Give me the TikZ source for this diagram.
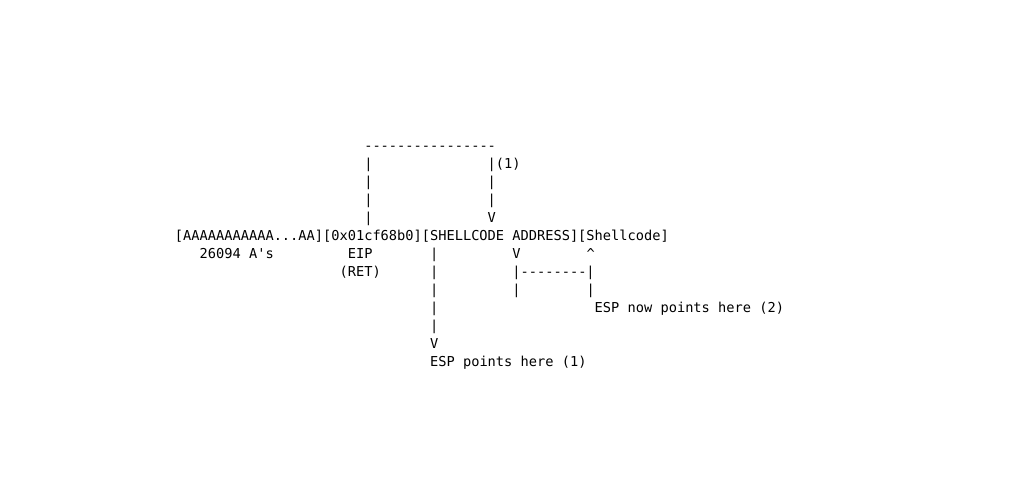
\documentclass[tikz,border=0pt]{standalone}
\usepackage{fontspec}
\setmonofont{DejaVu Sans Mono}
\tikzset{
  txt/.style={anchor=base west,inner sep=0pt,outer sep=0pt,
    font=\ttfamily\fontsize{13.67}{18}\selectfont}
}
\begin{document}
\begin{tikzpicture}[x=8.23pt,y=-18pt]
            \useasboundingbox (-175pt,150pt) rectangle (856pt,-341pt);
            % jump from EIP back to the shellcode address
            \node[txt] (top) at (23,0) {----------------};
            \foreach \r in {1,2,3,4} \node[txt] (eipbar\r) at (23,\r) {|};
            \node[txt] (retbar1) at (38,1) {|(1)};
            \node[txt] (retbar2) at (38,2) {|};
            \node[txt] (retbar3) at (38,3) {|};
            \node[txt] (retarrow) at (38,4) {V};
            % the buffer
            \node[txt] (buffer) at (0,5) {[AAAAAAAAAAA...AA][0x01cf68b0][SHELLCODE ADDRESS][Shellcode]};
            \node[txt] (count) at (3,6) {26094 A's};
            \node[txt] (eip) at (21,6) {EIP};
            \node[txt] (ret) at (20,7) {(RET)};
            % ESP after the return
            \foreach \r in {6,...,10} \node[txt] (espbar\r) at (31,\r) {|};
            \node[txt] (esparrow) at (31,11) {V};
            \node[txt] (esp) at (31,12) {ESP points here (1)};
            % ESP after the jump
            \node[txt] (addrarrow) at (41,6) {V};
            \node[txt] (codearrow) at (50,6) {\textasciicircum};
            \node[txt] (hop) at (41,7) {|--------|};
            \node[txt] (hopleft) at (41,8) {|};
            \node[txt] (hopright) at (50,8) {|};
            \node[txt] (espnow) at (51,9) {ESP now points here (2)};
        \end{tikzpicture}
\end{document}
